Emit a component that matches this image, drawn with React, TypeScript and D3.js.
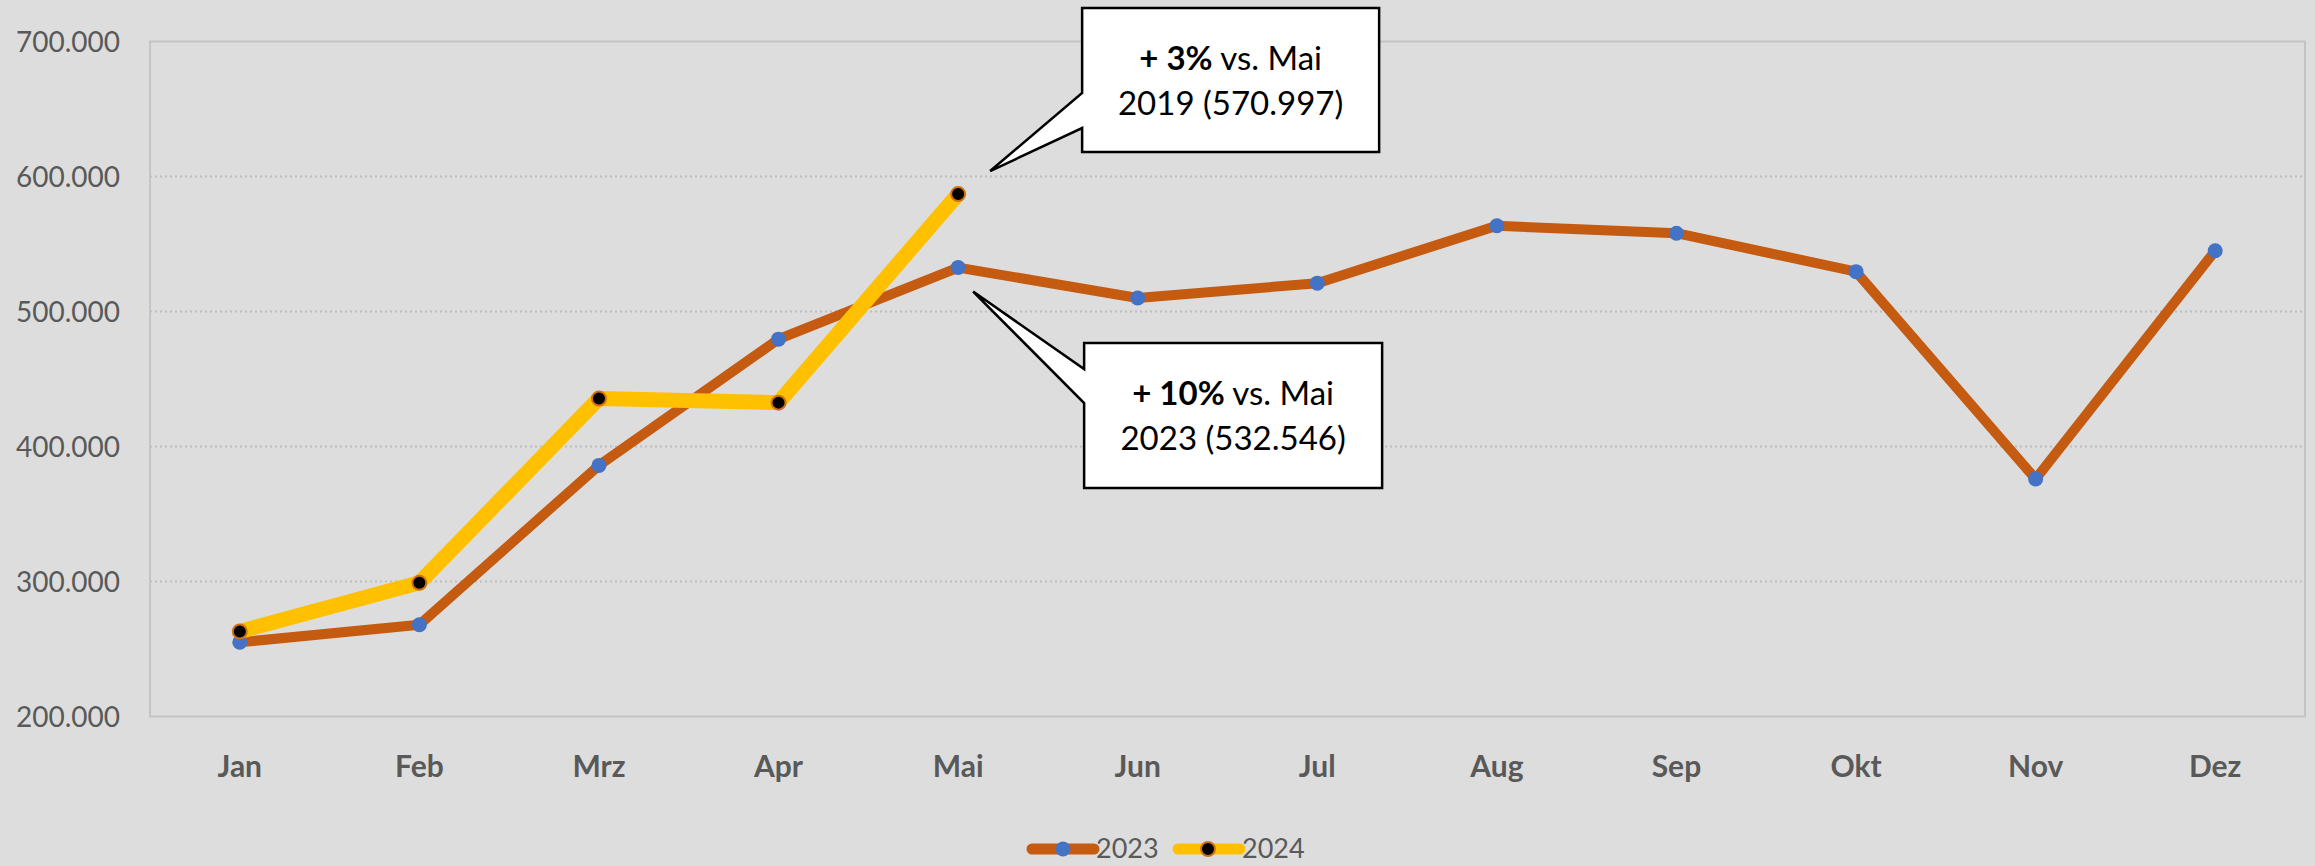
import React from 'react';
import * as d3 from 'd3';

// chart data (values in visitors)
const months = ['Jan', 'Feb', 'Mrz', 'Apr', 'Mai', 'Jun', 'Jul', 'Aug', 'Sep', 'Okt', 'Nov', 'Dez'];
const values2023 = [255000, 268000, 386000, 479500, 532546, 510000, 521000, 563500, 558000, 529500, 376000, 545000];
const values2024 = [263000, 299000, 435500, 432500, 587000];
const yTicks = [200000, 300000, 400000, 500000, 600000, 700000];
const seriesNames = ['2023', '2024'];
const callouts = [
  { bold: '+ 3%', rest: ' vs. Mai', line2: '2019 (570.997)' },
  { bold: '+ 10%', rest: ' vs. Mai', line2: '2023 (532.546)' },
];

const W = 2315;
const H = 866;
const margin = { left: 150, right: 10, top: 41.5, bottom: 149.5 };
const FONT = 'Lato, "Open Sans", sans-serif';
const GREY = '#595959';
const ORANGE = '#C55A11';
const YELLOW = '#FFC000';
const BLUE = '#4472C4';

// German thousands separator: 700000 -> "700.000"
const fmt = (v: number) => d3.format(',')(v).replace(/,/g, '.');

export default function App() {
  const x = d3
    .scaleBand()
    .domain(months)
    .range([margin.left, W - margin.right]);
  const y = d3
    .scaleLinear()
    .domain([200000, 700000])
    .range([H - margin.bottom, margin.top]);
  const cx = (m: string) => (x(m) as number) + x.bandwidth() / 2;

  const line = d3
    .line<number>()
    .x((d, i) => cx(months[i]))
    .y(d => y(d));

  const mai = months[4];
  const mx = cx(mai);
  // callout 1 points at the 2024 May value, callout 2 at the 2023 May value
  const p1 = { x: mx + 32, y: y(values2024[4]) - 23 };
  const p2 = { x: mx + 15, y: y(values2023[4]) + 24 };
  const box1 = { x: mx + 124, y: 8, w: 297, h: 144, a: 93, b: 128 };
  const box2 = { x: mx + 126, y: 343, w: 298, h: 145, a: 369, b: 403 };
  const boxPath = (b: typeof box1, t: { x: number; y: number }) =>
    `M${b.x},${b.y}H${b.x + b.w}V${b.y + b.h}H${b.x}V${b.b}L${t.x},${t.y}L${b.x},${b.a}Z`;

  const legendY = 849;

  return (
    <svg
      width={W}
      height={H}
      style={{ position: 'absolute', left: 0, top: 0, background: '#DDDDDD' }}
      fontFamily={FONT}
    >
      <rect x={0} y={0} width={W} height={H} fill="#DDDDDD" />

      {/* gridlines */}
      {yTicks.slice(1, -1).map(t => (
        <line
          key={t}
          x1={margin.left}
          x2={W - margin.right}
          y1={y(t)}
          y2={y(t)}
          stroke="#BDBDBD"
          strokeWidth={2}
          strokeDasharray="2,3"
        />
      ))}
      {/* plot frame */}
      <rect
        x={margin.left}
        y={margin.top}
        width={W - margin.left - margin.right}
        height={H - margin.top - margin.bottom}
        fill="none"
        stroke="#C4C4C4"
        strokeWidth={2}
      />

      {/* y axis labels */}
      {yTicks.map(t => (
        <text key={t} x={120} y={y(t) + 10.5} textAnchor="end" fontSize={28} fill={GREY}>
          {fmt(t)}
        </text>
      ))}

      {/* x axis labels */}
      {months.map(m => (
        <text key={m} x={cx(m)} y={777} textAnchor="middle" fontSize={30} fontWeight="bold" fill={GREY}>
          {m}
        </text>
      ))}

      {/* 2023 */}
      <path d={line(values2023) || ''} fill="none" stroke={ORANGE} strokeWidth={10} strokeLinejoin="round" strokeLinecap="round" />
      {values2023.map((v, i) => (
        <circle key={i} cx={cx(months[i])} cy={y(v)} r={7.5} fill={BLUE} />
      ))}

      {/* 2024 */}
      <path d={line(values2024) || ''} fill="none" stroke={YELLOW} strokeWidth={15} strokeLinejoin="round" strokeLinecap="round" />
      {values2024.map((v, i) => (
        <circle key={i} cx={cx(months[i])} cy={y(v)} r={7} fill="#000" stroke="#D07010" strokeWidth={2} />
      ))}

      {/* callouts */}
      {[
        { b: box1, t: p1, c: callouts[0] },
        { b: box2, t: p2, c: callouts[1] },
      ].map(({ b, t, c }, i) => (
        <g key={i}>
          <path d={boxPath(b, t)} fill="#fff" stroke="#000" strokeWidth={2.5} strokeLinejoin="miter" />
          <text x={b.x + b.w / 2} y={b.y + 62} textAnchor="middle" fontSize={33} fill="#000">
            <tspan fontWeight="bold">{c.bold}</tspan>
            <tspan>{c.rest}</tspan>
          </text>
          <text x={b.x + b.w / 2} y={b.y + 107} textAnchor="middle" fontSize={33} fill="#000">
            {c.line2}
          </text>
        </g>
      ))}

      {/* legend */}
      <g>
        <line x1={1032} x2={1094} y1={legendY} y2={legendY} stroke={ORANGE} strokeWidth={11} strokeLinecap="round" />
        <circle cx={1063} cy={legendY} r={7.5} fill={BLUE} />
        <text x={1096} y={legendY + 9} fontSize={27} fill={GREY}>
          {seriesNames[0]}
        </text>
        <line x1={1178} x2={1240} y1={legendY} y2={legendY} stroke={YELLOW} strokeWidth={11} strokeLinecap="round" />
        <circle cx={1208} cy={legendY} r={7} fill="#000" stroke="#D07010" strokeWidth={2} />
        <text x={1242} y={legendY + 9} fontSize={27} fill={GREY}>
          {seriesNames[1]}
        </text>
      </g>
    </svg>
  );
}
